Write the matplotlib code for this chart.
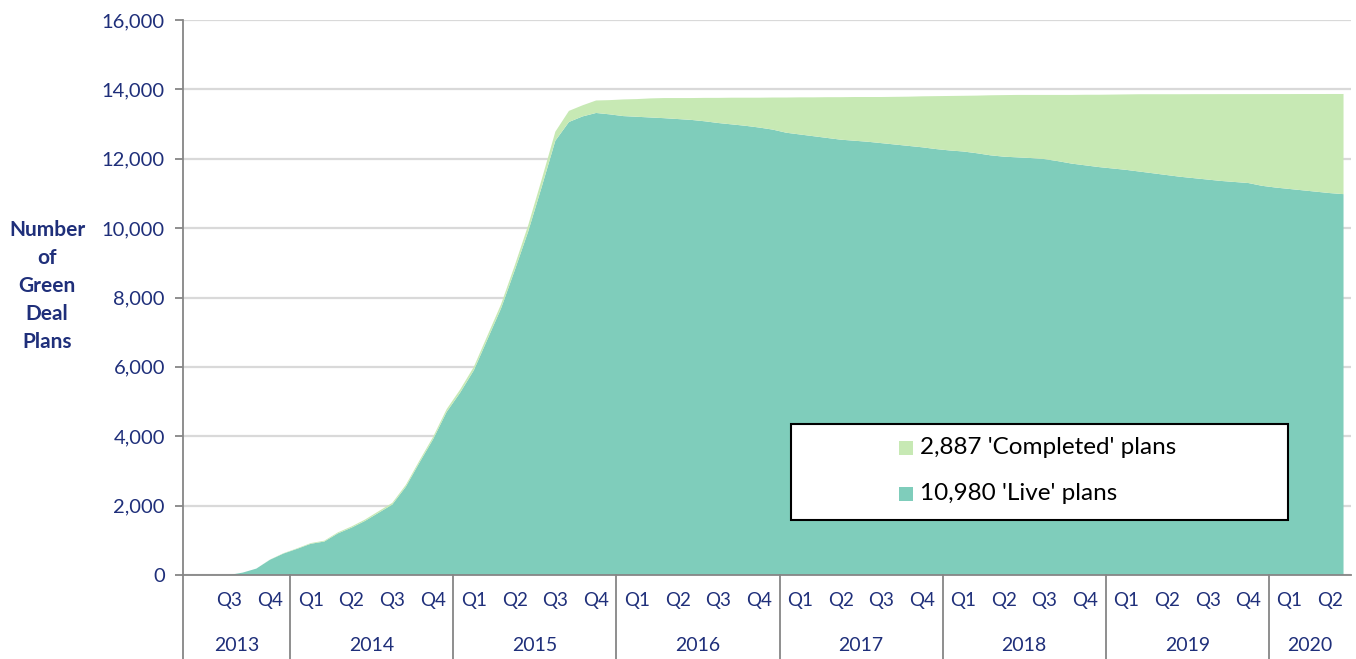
import matplotlib
matplotlib.use("Agg")
import matplotlib.pyplot as plt
import matplotlib.transforms as mtransforms
from matplotlib.patches import Rectangle
import numpy as np

plt.rcParams['font.family'] = ['Lato', 'DejaVu Sans']

# Monthly data, May 2013 .. Jun 2020 (month index: Jan 2014 = 0)
month_index = list(range(-8, 78))
live = [0, 0, 0, 0, 70, 185, 440, 620,
        755, 900, 965, 1200, 1365, 1560, 1795, 2030, 2545, 3240, 3910, 4700,
        5260, 5900, 6790, 7680, 8770, 9900, 11190, 12520, 13060, 13220, 13320, 13280,
        13230, 13210, 13190, 13170, 13145, 13120, 13080, 13030, 12990, 12950, 12900, 12840,
        12750, 12700, 12650, 12600, 12550, 12520, 12490, 12450, 12410, 12370, 12330, 12280,
        12240, 12210, 12160, 12100, 12060, 12040, 12020, 11990, 11930, 11860, 11810, 11760,
        11720, 11680, 11630, 11580, 11530, 11480, 11440, 11400, 11360, 11330, 11300, 11220,
        11170, 11130, 11090, 11050, 11010, 10980]
completed = [0, 0, 0, 0, 0, 0, 5, 10,
             15, 20, 25, 30, 35, 40, 45, 50, 55, 60, 70, 80,
             90, 100, 110, 120, 140, 180, 220, 260, 320, 320, 360, 410,
             480, 510, 550, 580, 605, 630, 675, 725, 770, 810, 860, 925,
             1015, 1070, 1120, 1175, 1225, 1260, 1290, 1330, 1375, 1420, 1470, 1525,
             1570, 1605, 1660, 1730, 1775, 1800, 1820, 1850, 1910, 1980, 2035, 2085,
             2130, 2175, 2230, 2280, 2330, 2380, 2422, 2462, 2503, 2533, 2564, 2644,
             2695, 2735, 2776, 2816, 2857, 2887]

years = ['2013', '2014', '2015', '2016', '2017', '2018', '2019', '2020']
year_quarters = [['Q3', 'Q4'], ['Q1', 'Q2', 'Q3', 'Q4'], ['Q1', 'Q2', 'Q3', 'Q4'],
                 ['Q1', 'Q2', 'Q3', 'Q4'], ['Q1', 'Q2', 'Q3', 'Q4'], ['Q1', 'Q2', 'Q3', 'Q4'],
                 ['Q1', 'Q2', 'Q3', 'Q4'], ['Q1', 'Q2']]
legend_labels = ["2,887 'Completed' plans", "10,980 'Live' plans"]
y_label = "Number\nof\nGreen\nDeal\nPlans"

live_color = '#7FCDBB'
comp_color = '#C7E9B4'
navy = '#1F2F7A'
grey = '#868686'

W, H = 1356, 659
fig = plt.figure(figsize=(W / 100, H / 100), dpi=100)
ax = fig.add_axes([183 / W, 1 - 575 / H, (1351 - 183) / W, 555 / H])

x = np.array(month_index) + 0.5
ax.stackplot(x, live, completed, colors=[live_color, comp_color], linewidth=0)

XMIN, XMAX = -7.9, 78.05
ax.set_xlim(XMIN, XMAX)
ax.set_ylim(0, 16000)
ax.set_yticks(np.arange(0, 16001, 2000))
ax.set_yticklabels([f"{v:,}" for v in range(0, 16001, 2000)])
ax.grid(axis='y', color='#D9D9D9', linewidth=1.6)
ax.set_axisbelow(True)
for s in ['top', 'right']:
    ax.spines[s].set_visible(False)
ax.spines['left'].set_color(grey)
ax.spines['left'].set_linewidth(1.3)
ax.spines['bottom'].set_color(grey)
ax.spines['bottom'].set_linewidth(1.3)
ax.tick_params(axis='y', colors=grey, labelcolor=navy, labelsize=14.5, length=6, width=1.3, pad=7)
ax.set_xticks([])

# multi-level category axis
trans = mtransforms.blended_transform_factory(ax.transData, ax.transAxes)
bounds = [XMIN]
for yi, (yr, qs) in enumerate(zip(years, year_quarters)):
    first = -6 if yi == 0 else (int(yr) - 2014) * 12
    for k, q in enumerate(qs):
        c = first + k * 3 + 1.5
        ax.text(c, -0.046, q, transform=trans, ha='center', va='center',
                color=navy, fontsize=13.5, clip_on=False)
    left = XMIN if yi == 0 else (int(yr) - 2014) * 12
    right = min((int(yr) - 2014 + 1) * 12, XMAX)
    ax.text((left + right) / 2, -0.127, yr, transform=trans, ha='center', va='center',
            color=navy, fontsize=14, clip_on=False)
    if yi > 0:
        bounds.append(left)
for b in bounds:
    ax.plot([b, b], [0, -0.16], transform=trans, color=grey, linewidth=1.3, clip_on=False)

fig.text(47 / W, 1 - 286 / H, y_label, ha='center', va='center', color=navy,
         fontsize=15, fontweight='bold', linespacing=1.5)

# legend box
fig.patches.append(Rectangle((791 / W, 1 - 520 / H), (1288 - 791) / W, (520 - 424) / H,
                             transform=fig.transFigure, facecolor='white',
                             edgecolor='black', linewidth=1.5, zorder=5))
for lbl, col, yy in [(legend_labels[0], comp_color, 448), (legend_labels[1], live_color, 494)]:
    fig.patches.append(Rectangle((899 / W, 1 - (yy + 7) / H), 14 / W, 14 / H,
                                 transform=fig.transFigure, facecolor=col,
                                 edgecolor='none', zorder=6))
    fig.text(920 / W, 1 - yy / H, lbl, ha='left', va='center', color='black',
             fontsize=17.5, zorder=7)

fig.savefig('out.png', dpi=100)
